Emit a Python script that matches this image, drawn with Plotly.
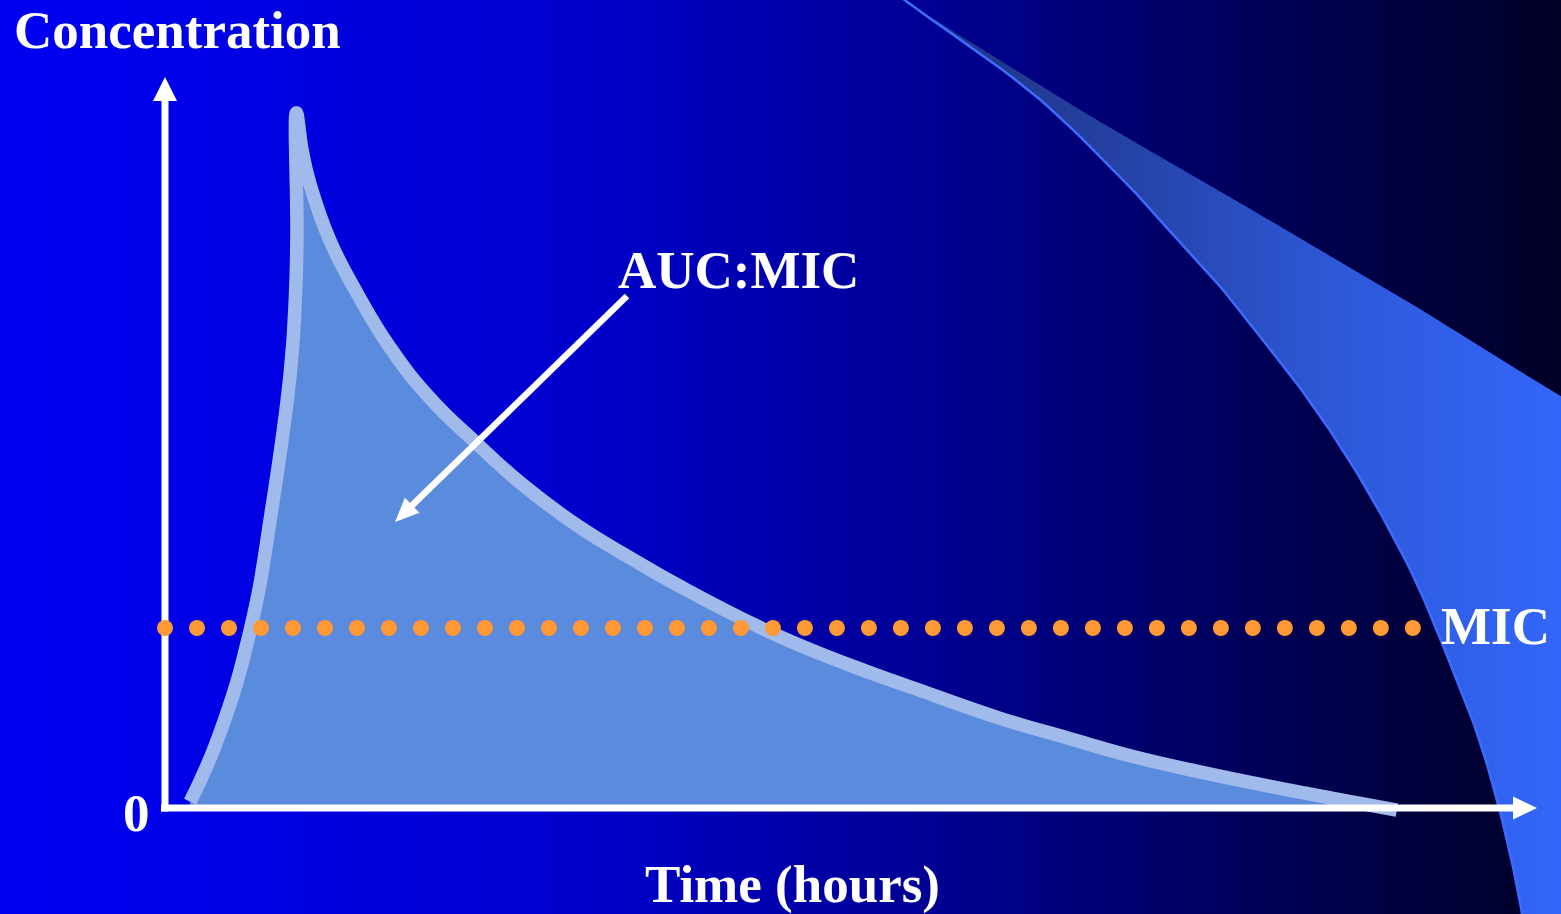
import numpy as np
import plotly.graph_objects as go

# ---------------- data ----------------
time_h = [0.49, 1.05, 1.66, 2.08, 2.44, 2.54, 2.57, 2.56, 2.67, 2.82, 3.21, 3.74, 4.38,
          5.16, 6.08, 6.97, 8.08, 9.06, 10.03, 11.73, 13.29, 14.57, 16.27, 17.57,
          18.86, 20.16, 21.47, 22.75, 24.0]
concentration = [0.9, 10.4, 25.6, 43.0, 62.6, 73.4, 82.3, 100.0, 94.7, 89.9, 81.7, 74.1, 66.3,
                 59.0, 52.4, 46.5, 40.4, 36.0, 31.9, 25.5, 20.7, 17.3, 12.9, 10.1,
                 7.4, 5.2, 3.2, 1.4, -0.3]
mic_level = 25.9
mic_dot_count = 40
mic_dot_span = [0.0, 24.31]

title_y = "Concentration"
title_x = "Time (hours)"
label_auc = "AUC:MIC"
label_mic = "MIC"
label_zero = "0"

# ---------------- layout helpers ----------------
W, H = 1561, 914
X0, Y0 = 165.0, 808.0      # pixel position of the origin
KX, KY = 51.33, 6.95       # pixels per hour / per concentration unit


def tx(px):
    return (px - X0) / KX


def ty(py):
    return (Y0 - py) / KY


def px_x(px):
    return px / W


def px_y(py):
    return 1 - py / H


def catmull(pts, n=12):
    pts = np.asarray(pts, float)
    p = np.vstack([pts[0], pts, pts[-1]])
    out = []
    for i in range(1, len(p) - 2):
        p0, p1, p2, p3 = p[i - 1], p[i], p[i + 1], p[i + 2]
        for t in np.linspace(0, 1, n, endpoint=False):
            t2, t3 = t * t, t * t * t
            out.append(0.5 * ((2 * p1) + (-p0 + p2) * t + (2 * p0 - 5 * p1 + 4 * p2 - p3) * t2
                              + (-p0 + 3 * p1 - 3 * p2 + p3) * t3))
    out.append(p[-2])
    return np.array(out)


fig = go.Figure()

# background gradient
bg_x = [tx(0), tx(W), tx(W), tx(0), tx(0)]
bg_y = [ty(H), ty(H), ty(0), ty(0), ty(H)]
fig.add_trace(go.Scatter(
    x=bg_x, y=bg_y, mode="lines", fill="toself", line=dict(width=0),
    fillgradient=dict(type="horizontal", start=tx(0), stop=tx(W),
                      colorscale=[[0.0, "rgb(0,0,242)"], [0.1, "rgb(0,0,234)"],
                                  [0.37, "rgb(0,0,205)"], [0.64, "rgb(0,0,135)"],
                                  [0.91, "rgb(0,0,60)"], [1.0, "rgb(0,0,40)"]]),
    hoverinfo="skip"))

# decorative swoosh (upper right)
swoosh_top_px = [(870, -25), (904, 0), (1077, 108), (1213, 187), (1303, 240),
                 (1394, 293), (1485, 350), (1561, 396), (1640, 444)]
swoosh_left_px = [(870, -25), (904, 0), (1031, 92), (1122, 179), (1167, 228),
                  (1213, 278), (1258, 334), (1303, 392), (1344, 452), (1383, 518),
                  (1417, 584), (1450, 663), (1477, 733), (1497, 800), (1513, 867),
                  (1522, 914), (1528, 960)]
top_dense = catmull(swoosh_top_px)
left_dense = catmull(swoosh_left_px)
poly = [tuple(p) for p in top_dense] + [(1640, 960)] + [tuple(p) for p in left_dense[::-1]]
fig.add_trace(go.Scatter(
    x=[tx(p[0]) for p in poly], y=[ty(p[1]) for p in poly],
    mode="lines", fill="toself", line=dict(width=0),
    fillgradient=dict(type="horizontal", start=tx(870), stop=tx(1640),
                      colorscale=[[0.0, "rgb(28,45,120)"], [0.3, "rgb(36,64,160)"],
                                  [0.6, "rgb(45,88,215)"], [0.9, "rgb(51,102,250)"],
                                  [1.0, "rgb(51,102,255)"]]),
    hoverinfo="skip"))
fig.add_trace(go.Scatter(
    x=[tx(p[0]) for p in left_dense], y=[ty(p[1]) for p in left_dense],
    mode="lines", line=dict(color="#3D6BFF", width=2.5), hoverinfo="skip"))

# concentration curve (AUC)
fig.add_trace(go.Scatter(
    x=time_h, y=concentration, mode="lines", fill="tozeroy",
    fillcolor="#5B8BDD", line=dict(color="#A0BBEB", width=13.5, shape="spline", smoothing=1.3),
    hoverinfo="skip"))

# axes with arrowheads
axis_color = "white"
fig.add_trace(go.Scatter(x=[tx(161), tx(1515)], y=[ty(808), ty(808)], mode="lines",
                         line=dict(color=axis_color, width=7), hoverinfo="skip"))
fig.add_trace(go.Scatter(x=[tx(165), tx(165)], y=[ty(811.5), ty(98)], mode="lines",
                         line=dict(color=axis_color, width=7), hoverinfo="skip"))
heads = [
    [(165, 77), (177, 101), (153, 101)],      # y-axis arrow
    [(1537, 808), (1513, 796.5), (1513, 819.5)],  # x-axis arrow
]
# AUC:MIC pointer
S = np.array([627.0, 296.0])
T = np.array([395.0, 522.0])
d = (T - S) / np.linalg.norm(T - S)
n = np.array([-d[1], d[0]])
B = T - 24 * d
heads.append([tuple(T), tuple(B + 10.5 * n), tuple(B - 10.5 * n)])
fig.add_trace(go.Scatter(x=[tx(S[0]), tx(B[0] + 2 * d[0])], y=[ty(S[1]), ty(B[1] + 2 * d[1])],
                         mode="lines", line=dict(color=axis_color, width=6.5), hoverinfo="skip"))
for h in heads:
    fig.add_trace(go.Scatter(
        x=[tx(p[0]) for p in h] + [tx(h[0][0])], y=[ty(p[1]) for p in h] + [ty(h[0][1])],
        mode="lines", fill="toself", fillcolor=axis_color, line=dict(width=0),
        hoverinfo="skip"))

# MIC dotted line
mic_t = np.linspace(mic_dot_span[0], mic_dot_span[1], mic_dot_count)
fig.add_trace(go.Scatter(x=mic_t, y=[mic_level] * mic_dot_count, mode="markers",
                         marker=dict(color="#FF9933", size=16, line=dict(width=0)),
                         hoverinfo="skip"))

font = dict(family="Liberation Serif, Times New Roman, serif", size=53, color="white",
            weight="bold")
ann = [
    (title_y, 13, 30, "left"),
    (label_auc, 738, 270, "center"),
    (title_x, 792, 884, "center"),
    (label_mic, 1440, 626, "left"),
    (label_zero, 136, 813, "center"),
]
for text, x, y, xa in ann:
    fig.add_annotation(text=text, x=px_x(x), y=px_y(y), xref="paper", yref="paper",
                       xanchor=xa, yanchor="middle", showarrow=False, font=font,
                       borderpad=0)

fig.update_layout(
    width=W, height=H, margin=dict(l=0, r=0, t=0, b=0),
    paper_bgcolor="#00006e", plot_bgcolor="#00006e", showlegend=False,
    xaxis=dict(range=[tx(0), tx(W)], visible=False, fixedrange=True),
    yaxis=dict(range=[ty(H), ty(0)], visible=False, fixedrange=True),
    hovermode=False,
)
fig.write_html(
    "out.html",
    config={"displayModeBar": False},
    post_script="document.body.style.margin='0';document.body.style.padding='0';"
                "document.body.style.overflow='hidden';",
)
